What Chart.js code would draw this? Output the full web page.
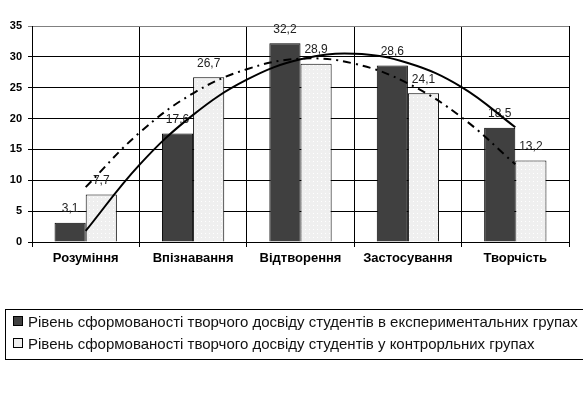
<!DOCTYPE html>
<html>
<head>
<meta charset="utf-8">
<script src="https://cdn.jsdelivr.net/npm/chart.js@4/dist/chart.umd.min.js"></script>
<style>
  html, body { margin: 0; padding: 0; background: #fff; overflow: hidden; }
  #wrap { position: relative; width: 583px; height: 397px; overflow: hidden; }
  #wrap canvas { position: absolute; left: 0; top: 0; }
  #legend {
    position: absolute; left: 5px; top: 309px; width: 620px; height: 51px;
    border: 1px solid #000; font-family: "Liberation Sans Narrow", "Liberation Sans", Arial, sans-serif;
    font-size: 15px; color: #111; box-sizing: border-box;
  }
  #legend div { position: absolute; left: 7px; white-space: nowrap; line-height: 18px; }
  #legend span.box { display: inline-block; width: 8px; height: 8px; border: 1px solid #000; margin-right: 5px; vertical-align: 1px; }
</style>
</head>
<body>
<div id="wrap">
  <canvas id="chart" width="583" height="397"></canvas>
  <canvas id="trend" width="583" height="397"></canvas>
  <div id="legend"></div>
</div>
<script>
const categories = ['Розуміння', 'Впізнавання', 'Відтворення', 'Застосування', 'Творчість'];
const seriesNames = [
  'Рівень сформованості творчого досвіду студентів в експериментальних групах',
  'Рівень сформованості творчого досвіду студентів у контрорльних групах'
];
const expValues = [3.1, 17.6, 32.2, 28.6, 18.5];
const ctlValues = [7.7, 26.7, 28.9, 24.1, 13.2];

// trend lines, at every half category
const trendPos = [0, 0.5, 1, 1.5, 2, 2.5, 3, 3.5, 4];
const expTrend = [1.8, 12.5, 20.6, 26.3, 29.6, 30.5, 29.0, 25.1, 18.6];
const ctlTrend = [8.9, 17.7, 24.1, 28.0, 29.7, 28.9, 25.7, 20.2, 12.6];

const yTicks = [0, 5, 10, 15, 20, 25, 30, 35];

// plot area, shared by both canvases
const pad = { top: 26, right: 14, bottom: 126, left: 0 };
const axisW = 32, axisH = 29;

function dotPattern() {
  const c = document.createElement('canvas');
  c.width = 4; c.height = 4;
  const g = c.getContext('2d');
  g.fillStyle = '#efefef';
  g.fillRect(0, 0, 4, 4);
  g.fillStyle = '#ffffff';
  g.fillRect(1, 1, 1, 1);
  return g.createPattern(c, 'repeat');
}

const darkFill = '#404040';
const lightFill = dotPattern();

const barLabels = {
  id: 'barLabels',
  afterDatasetsDraw(chart) {
    const ctx = chart.ctx;
    ctx.save();
    ctx.font = '12px "Liberation Sans", Arial, sans-serif';
    ctx.fillStyle = '#222';
    ctx.textAlign = 'center';
    ctx.textBaseline = 'middle';
    chart.data.datasets.forEach((ds, di) => {
      chart.getDatasetMeta(di).data.forEach((bar, i) => {
        ctx.fillText(String(ds.data[i]).replace('.', ','), bar.x, bar.y - 14);
      });
    });
    ctx.restore();
  }
};

const chart = new Chart(document.getElementById('chart'), {
  type: 'bar',
  data: {
    labels: categories,
    datasets: [
      {
        label: seriesNames[0], data: expValues,
        backgroundColor: darkFill, borderColor: '#000', borderWidth: 1,
        categoryPercentage: 0.58, barPercentage: 1.0
      },
      {
        label: seriesNames[1], data: ctlValues,
        backgroundColor: lightFill, borderColor: '#000', borderWidth: 1,
        categoryPercentage: 0.58, barPercentage: 1.0
      }
    ]
  },
  options: {
    responsive: false,
    animation: false,
    layout: { padding: pad },
    plugins: { legend: { display: false }, tooltip: { enabled: false } },
    scales: {
      x: {
        grid: {
          offset: true,
          color: c => (c.index === categories.length ? '#808080' : '#000'),
          lineWidth: 1,
          tickLength: 5
        },
        border: { color: '#000' },
        ticks: {
          color: '#000', padding: 4,
          font: { family: '"Liberation Sans", Arial, sans-serif', size: 13, weight: 'bold' }
        },
        afterFit: s => { s.height = axisH; }
      },
      y: {
        min: 0, max: 35,
        afterBuildTicks: s => { s.ticks = yTicks.map(v => ({ value: v })); },
        grid: {
          color: c => (c.tick && c.tick.value === 35 ? '#808080' : '#000'),
          lineWidth: 1,
          tickLength: 4
        },
        border: { color: '#000' },
        ticks: {
          color: '#000', padding: 6,
          font: { family: '"Liberation Sans", Arial, sans-serif', size: 11, weight: 'bold' }
        },
        afterFit: s => { s.width = axisW; }
      }
    }
  },
  plugins: [barLabels]
});

// trend lines on a transparent overlay with the same plot area
const toPoints = vals => trendPos.map((x, i) => ({ x: x, y: vals[i] }));
new Chart(document.getElementById('trend'), {
  type: 'line',
  data: {
    datasets: [
      {
        data: toPoints(expTrend),
        borderColor: '#000', borderWidth: 2, pointRadius: 0, tension: 0.4, fill: false
      },
      {
        data: toPoints(ctlTrend),
        borderColor: '#000', borderWidth: 2, pointRadius: 0, tension: 0.4, fill: false,
        borderDash: [8, 5, 2, 5]
      }
    ]
  },
  options: {
    responsive: false,
    animation: false,
    layout: { padding: { top: pad.top, right: pad.right, bottom: pad.bottom + axisH, left: pad.left + axisW } },
    plugins: { legend: { display: false }, tooltip: { enabled: false } },
    scales: {
      x: { type: 'linear', display: false, min: -0.5, max: 4.5 },
      y: { display: false, min: 0, max: 35 }
    }
  }
});

// legend box built from the chart's bar datasets
const legendEl = document.getElementById('legend');
chart.data.datasets.forEach((ds, k) => {
  const row = document.createElement('div');
  row.style.top = (k === 0 ? 3 : 25) + 'px';
  const box = document.createElement('span');
  box.className = 'box';
  box.style.background = k === 0 ? darkFill : '#efefef';
  row.appendChild(box);
  row.appendChild(document.createTextNode(ds.label));
  legendEl.appendChild(row);
});
</script>
</body>
</html>
